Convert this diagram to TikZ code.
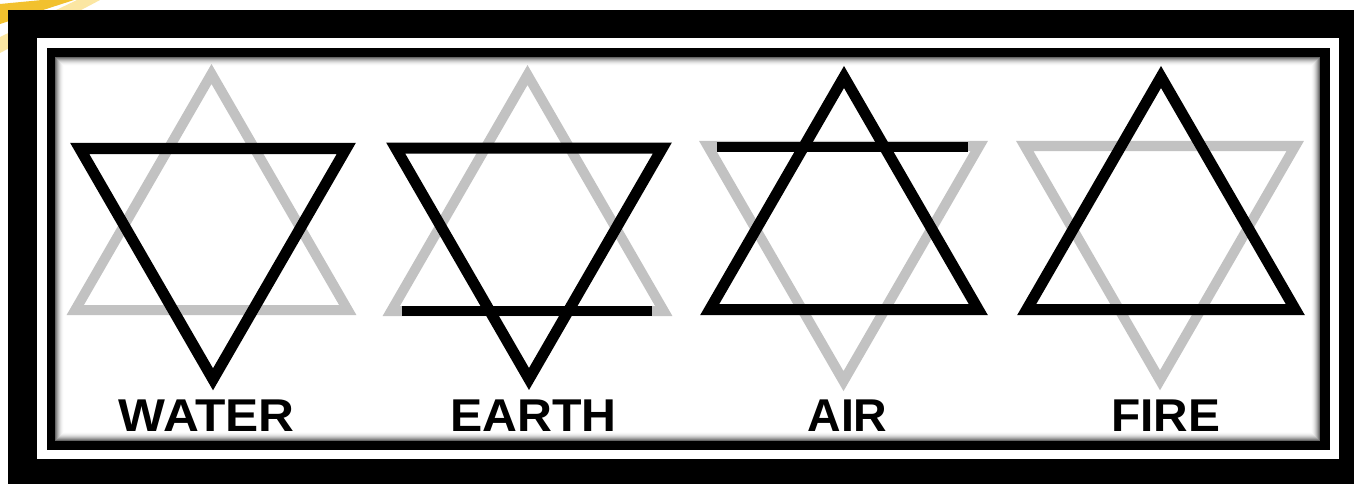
\documentclass[tikz,border=0pt]{standalone}
\usepackage{fontspec}
\setmainfont{Liberation Sans}
\definecolor{gold}{HTML}{F2C12E}
\definecolor{paleyellow}{HTML}{FBE6A2}
\definecolor{ghost}{HTML}{C2C2C2}
\newcommand\uptriangle[4]{\draw[#1] ({#2-#3/2},#4) -- ({#2+#3/2},#4) -- ({#2},{#4-0.8660254*#3}) -- cycle;}
\newcommand\downtriangle[4]{\draw[#1] ({#2-#3/2},#4) -- ({#2+#3/2},#4) -- ({#2},{#4+0.8660254*#3}) -- cycle;}
\begin{document}
\begin{tikzpicture}[x=1pt,y=-1pt,line join=miter,
  gry/.style={draw=ghost,line width=10pt},
  blk/.style={draw=black,line width=11pt},
  barline/.style={draw=black,line width=10pt,line cap=butt},
  lbl/.style={font=\fontsize{46}{50}\selectfont\bfseries,inner sep=0pt,anchor=base}]
\useasboundingbox (0,0) rectangle (1354,484);
\fill[white] (0,0) rectangle (1354,484);
% corner stripes
\fill[paleyellow] (0,37) -- (0,53) -- (100,0) -- (77,0) -- cycle;
\fill[gold] (0,4) -- (0,24) -- (74,0) -- (42,0) -- cycle;
% frame
\fill[black] (8,10) rectangle (1354,484);
\fill[white] (37,38) rectangle (1339,459);
\fill[black] (47,48) rectangle (1330,450);
\fill[white] (55,57) rectangle (1320,441);
% inner shadow
\foreach \i in {0,...,8} {
  \pgfmathsetmacro\op{0.6*(1-\i/9)^2}
  \draw[black,line width=1pt,draw opacity=\op] (55.5+\i,57.5+\i) rectangle (1319.5-\i,440.5-\i);
}
% water
\uptriangle{gry}{211.5}{272.5}{310}
\downtriangle{blk}{213}{266.5}{148.5}
% earth
\uptriangle{gry}{527.5}{272.5}{311}
\downtriangle{blk}{529}{266.5}{148.2}
\draw[barline] (401.7,311.3) -- (651.7,311.3);
% air
\downtriangle{gry}{843.5}{271.5}{146}
\uptriangle{blk}{844}{268.5}{309.5}
\draw[barline] (716.7,146.7) -- (968.3,146.7);
% fire
\downtriangle{gry}{1160}{270.5}{146}
\uptriangle{blk}{1161}{268.5}{309.5}
% labels
\node[lbl,xscale=1.08] (water) at (206.7,431) {WATER};
\node[lbl,xscale=1.05] (earth) at (533.3,431) {EARTH};
\node[lbl,xscale=1.01] (air) at (847.5,431) {AIR};
\node[lbl,xscale=1.04] (fire) at (1165.5,431) {FIRE};
\end{tikzpicture}
\end{document}
